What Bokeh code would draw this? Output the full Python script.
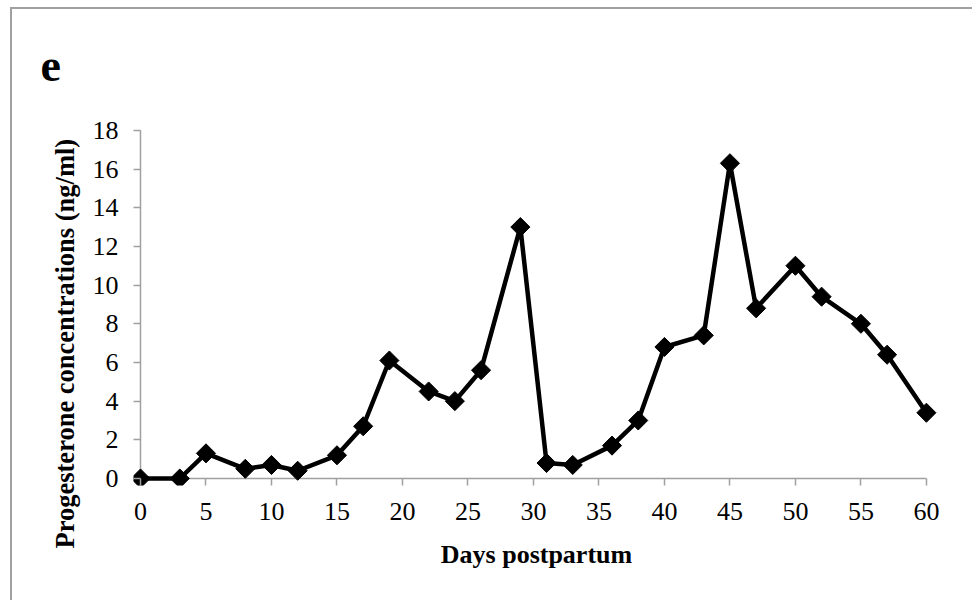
import math

from bokeh.embed import file_html
from bokeh.models import ColumnDataSource, FixedTicker, Range1d, Title
from bokeh.plotting import figure
from bokeh.resources import INLINE

# Progesterone profile after calving
days = [0, 3, 5, 8, 10, 12, 15, 17, 19, 22, 24, 26, 29, 31, 33, 36, 38, 40, 43, 45, 47, 50, 52, 55, 57, 60]
progesterone = [0.0, 0.0, 1.3, 0.5, 0.7, 0.4, 1.2, 2.7, 6.1, 4.5, 4.0, 5.6, 13.0, 0.8, 0.7, 1.7,
                3.0, 6.8, 7.4, 16.3, 8.8, 11.0, 9.4, 8.0, 6.4, 3.4]

x_ticks = [0, 5, 10, 15, 20, 25, 30, 35, 40, 45, 50, 55, 60]
y_ticks = [0, 2, 4, 6, 8, 10, 12, 14, 16, 18]

panel_letter = "e"
x_title = "Days postpartum"
y_title = "Progesterone concentrations (ng/ml)"

FONT = "Liberation Serif"
AXIS_GREY = "#a0a0a0"
PANEL_GREY = "#a0a0a0"

source = ColumnDataSource(data=dict(day=days, p4=progesterone))

p = figure(
    width=972, height=600,
    x_range=Range1d(-0.534, 61.0), y_range=Range1d(-0.362, 18.2),
    min_border_left=133, min_border_right=33, min_border_top=126, min_border_bottom=115,
    output_backend="svg", toolbar_location=None,
    background_fill_color=None, border_fill_color=None,
)
# transparent canvas over a white page carrying the grey panel edge (left and top)
p.styles = {
    "background-color": "white",
    "background-image": (f"linear-gradient({PANEL_GREY}, {PANEL_GREY}), "
                         f"linear-gradient({PANEL_GREY}, {PANEL_GREY})"),
    "background-size": "2px 100%, 100% 2px",
    "background-position": "10px 7px, 10px 7px",
    "background-repeat": "no-repeat",
}
p.outline_line_color = None
p.grid.visible = False

# axes: ticks only, the axis lines themselves are drawn at x=0 / y=0 below
for ax in (p.xaxis[0], p.yaxis[0]):
    ax.axis_line_color = None
    ax.major_tick_line_color = AXIS_GREY
    ax.major_tick_line_width = 1.5
    ax.major_tick_in = 7
    ax.major_tick_out = 0
    ax.minor_tick_line_color = None
    ax.major_label_text_font = FONT
    ax.major_label_text_font_size = "26px"
    ax.major_label_text_color = "black"

p.xaxis.ticker = FixedTicker(ticks=x_ticks)
p.yaxis.ticker = FixedTicker(ticks=y_ticks)
p.xaxis.major_label_standoff = 17
p.yaxis.major_label_standoff = 15

p.xaxis.axis_label = x_title
p.xaxis.axis_label_text_font = FONT
p.xaxis.axis_label_text_font_size = "26px"
p.xaxis.axis_label_text_font_style = "bold"
p.xaxis.axis_label_text_color = "black"
p.xaxis.axis_label_standoff = 17

# axis lines
p.segment(x0=[0, 0], y0=[0, 0], x1=[60, 0], y1=[0, 18], line_color=AXIS_GREY, line_width=1.5)

# series
p.line("day", "p4", source=source, line_color="black", line_width=4.5)
p.scatter("day", "p4", source=source, marker="square", angle=math.pi / 4, size=13.5,
          fill_color="black", line_color="black")

# vertical axis title, set in the left panel next to the tick labels
p.add_layout(Title(text=y_title, align="left", offset=-63, standoff=19,
                   text_font=FONT, text_font_size="26.5px", text_font_style="bold",
                   text_color="black"), "left")

# panel letter in the top-left corner
p.add_layout(Title(text=panel_letter, align="left", offset=-93, standoff=92,
                   vertical_align="bottom",
                   text_font=FONT, text_font_size="46px", text_font_style="bold",
                   text_color="black"), "above")

open("out.html", "w").write(file_html(p, INLINE))
